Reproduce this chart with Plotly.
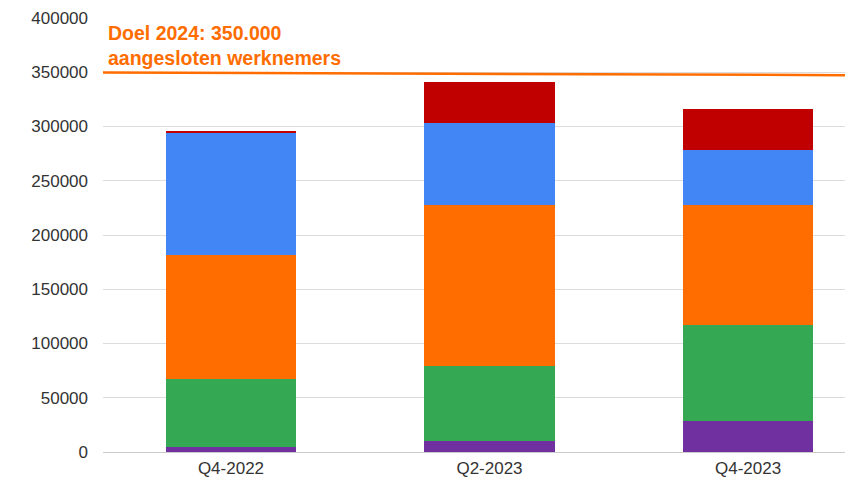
import plotly.graph_objects as go

categories = ["Q4-2022", "Q2-2023", "Q4-2023"]
series_purple = [5000, 10400, 28300]
series_green = [62000, 68900, 89000]
series_orange = [115000, 148100, 110100]
series_blue = [112000, 75500, 50700]
series_red = [2000, 38400, 38300]
target_value = 350000
target_label = "Doel 2024: 350.000<br>aangesloten werknemers"
y_ticks = [0, 50000, 100000, 150000, 200000, 250000, 300000, 350000, 400000]

series = [
    ("s1", series_purple, "#7030A0"),
    ("s2", series_green, "#34A853"),
    ("s3", series_orange, "#FF6D01"),
    ("s4", series_blue, "#4285F4"),
    ("s5", series_red, "#C00000"),
]

fig = go.Figure()
for name, vals, col in series:
    fig.add_trace(go.Bar(x=categories, y=vals, name=name, marker_color=col,
                         marker_line_width=0, width=0.503))

fig.add_shape(type="line", xref="paper", yref="y", x0=0, x1=1,
              y0=target_value - 300, y1=target_value - 2700,
              line=dict(color="#FF6D01", width=2.5))
fig.add_annotation(xref="paper", yref="y", x=0.004, y=target_value + 1200,
                   xanchor="left", yanchor="bottom", align="left",
                   text="<b>" + target_label + "</b>", showarrow=False,
                   font=dict(family="Liberation Sans, Arial", size=19.5, color="#FF6D01"))

# page body has an 8px margin, so the figure is sized/placed to compensate
fig.update_layout(
    barmode="stack", width=845, height=472, showlegend=False,
    plot_bgcolor="white", paper_bgcolor="white",
    margin=dict(l=95, r=0, t=10, b=28),
    font=dict(family="Liberation Sans, Arial", size=17, color="#333333"),
)
fig.update_yaxes(range=[0, 400000], tickvals=y_ticks, tickformat="d",
                 showgrid=True, gridcolor="#dcdcdc", gridwidth=1,
                 zeroline=True, zerolinecolor="#cccccc", zerolinewidth=1,
                 ticks="", ticklabelstandoff=14, automargin=False)
fig.update_xaxes(range=[-0.495, 2.406], showgrid=False, ticks="", showline=False,
                 ticklabelstandoff=4, automargin=False)

fig.write_html("out.html")
